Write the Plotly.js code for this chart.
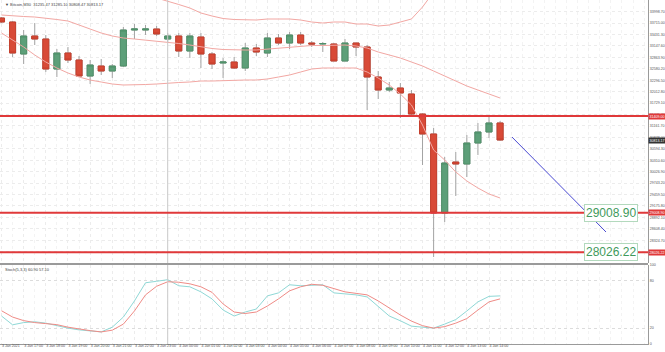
<!DOCTYPE html>
<html><head><meta charset="utf-8">
<script src="https://cdn.plot.ly/plotly-3.0.1.min.js"></script>
<style>html,body{margin:0;padding:0;background:#fff}#c{width:665px;height:352px}</style>
</head><body><div id="c"></div>
<script>
// ---- data ----
const xTickIdx = [0,2,4,6,8,10,12,14,16,18,20,22,24,26,28,30,32,34,36,38,40,42,44];
const xTickText = ["3 Jan 2021","3 Jan 17:00","3 Jan 18:00","3 Jan 19:00","3 Jan 20:00","3 Jan 21:00","3 Jan 22:00","3 Jan 23:00","4 Jan 00:00","4 Jan 01:00","4 Jan 02:00","4 Jan 03:00","4 Jan 04:00","4 Jan 05:00","4 Jan 06:00","4 Jan 07:00","4 Jan 08:00","4 Jan 09:00","4 Jan 10:00","4 Jan 11:00","4 Jan 12:00","4 Jan 13:00","4 Jan 14:00"];
const open  = [33841.3,33742.1,32947.8,33394.6,33320.1,32575.5,32972.6,32798.9,32401.8,32650.0,32525.9,32650.0,33543.5,33543.5,33568.3,33320.1,33394.6,33022.3,33369.8,32947.8,32724.4,32749.3,32600.3,33096.7,32972.6,33345.0,33220.8,33419.4,33220.8,33196.0,33196.0,32774.1,33220.8,33121.6,32377.0,32054.3,32104.0,31955.0,31458.6,30962.4,29001.5,30267.3,30217.6,30738.9,31012.0,31235.4];
const high  = [33866.2,33766.9,33543.5,33717.2,33419.4,33071.9,33121.6,32898.2,32798.9,32823.7,32699.6,33618.0,33692.4,33667.6,33642.8,33469.0,33469.0,33469.0,33469.0,32997.5,32848.6,32873.4,33220.8,33196.0,33469.0,33444.2,33493.9,33493.9,33270.5,33245.7,33220.8,33320.1,33220.8,33171.2,32525.9,32252.9,32228.1,32054.3,31480.0,31111.3,30391.4,30515.5,30937.4,31235.4,31433.8,31284.9];
const low   = [33717.2,32873.4,32699.6,33171.2,32501.1,32377.0,32724.4,32401.8,32203.2,32426.6,32352.2,32625.2,33320.1,33419.4,33394.6,33245.7,32873.4,32848.6,32600.3,32575.5,32352.2,32575.5,32525.9,32898.2,32873.4,33171.2,33071.9,33171.2,33121.6,32997.5,32774.1,32774.1,32898.2,31557.9,31830.9,32004.7,31359.4,31384.2,30192.8,27909.4,28778.1,29423.5,29895.0,30441.0,30863.0,30788.5];
const close = [33742.1,32972.6,33394.6,33320.1,32575.5,32972.6,32798.9,32401.8,32674.8,32525.9,32650.0,33543.5,33568.3,33568.3,33444.2,33394.6,33022.3,33394.6,32947.8,32699.6,32749.3,32600.3,33096.7,32997.5,33345.0,33220.8,33419.4,33220.8,33196.0,33208.4,32774.1,33220.8,33121.6,32377.0,32054.3,32104.0,31979.8,31458.6,30962.4,29001.5,30242.5,30217.6,30738.9,31012.0,31235.4,30813.17];
const bbUpper = [34362.6,34486.7,34635.6,34809.4,34933.3,35007.9,35057.6,34958.2,34834.1,34685.1,34586.0,34511.6,34461.8,34399.8,34337.8,34263.3,34176.3,34089.5,33965.5,33890.9,33828.9,33804.1,33791.7,33791.7,33816.5,33816.4,33816.6,33791.7,33742.1,33717.3,33742.1,33742.1,33692.5,33692.3,33642.8,33667.6,33742.2,33816.6,34114.4,34486.7,34486.7,34536.3,34511.5,34486.6,34436.8,34337.5];
const bbMiddle = [33915.8,33891.0,33878.6,33866.2,33841.3,33804.1,33766.9,33667.6,33568.3,33469.0,33394.6,33345.0,33320.1,33295.3,33270.5,33245.7,33208.4,33171.2,33121.6,33084.3,33059.5,33047.1,33047.1,33047.1,33071.9,33096.7,33121.6,33146.4,33158.8,33158.8,33171.2,33171.2,33146.4,33096.7,32997.5,32923.0,32848.6,32749.3,32650.0,32525.9,32401.8,32277.7,32153.6,32054.3,31955.0,31855.7];
const bbLower = [33469.0,33295.3,33121.6,32923.0,32749.3,32600.3,32476.2,32377.0,32302.5,32252.9,32203.2,32178.4,32178.4,32190.8,32203.2,32228.1,32240.5,32252.9,32277.7,32277.7,32290.1,32290.1,32302.5,32302.5,32327.3,32377.0,32426.6,32501.1,32575.5,32600.3,32600.3,32600.3,32600.3,32501.1,32352.2,32178.4,31955.0,31682.0,31185.6,30565.1,30316.9,30019.1,29795.7,29622.0,29473.2,29373.9];
const stochMain = [35.4,24.3,27.1,28.1,26.4,23.0,20.1,17.9,16.9,15.3,21.3,34.1,54.5,77.5,79.4,81.4,73.7,72.4,66.0,57.1,43.0,35.4,40.5,44.3,60.9,64.7,75.0,73.7,74.3,75.0,64.7,63.5,62.2,59.6,46.9,35.4,29.4,22.6,21.3,20.1,25.2,30.9,41.8,53.3,60.3,60.9];
const stochSignal = [42.1,34.1,29.6,27.1,25.8,24.5,21.3,18.8,16.9,15.3,17.5,25.2,41.8,62.2,73.1,78.8,78.2,76.2,72.4,65.4,50.7,40.5,38.6,40.5,48.1,57.1,67.3,72.4,75.6,74.3,70.5,66.0,64.1,62.2,54.5,45.6,36.7,29.0,23.2,20.1,22.0,26.4,32.2,43.0,53.3,57.1];
const priceTicks = [28041.00,28324.70,28608.40,28892.10,29175.80,29459.50,29743.20,30026.90,30310.60,30594.30,30878.00,31161.70,31445.40,31729.10,32012.80,32296.50,32580.20,32863.90,33147.60,33431.30,33715.00,33998.70];
const levels = [29008.90, 28026.22];
const resistance = 31409.00;
const lastPrice = 30813.17;
const trendX = [46.07, 54.56];
const trendY = [30887.8, 28529.9];
const stochTicks = [0,20,80,100];
const headerText = "\u25BC Bitcoin,M30  31235.47 31285.10 30808.47 30813.17";
const stochText = "Stoch(5,3,3) 60.90 57.10";

// ---- build ----
const idx = open.map((_, i) => i);
const bodyHi = open.map((o, i) => Math.max(o, close[i]));
const bodyLo = open.map((o, i) => Math.min(o, close[i]));
const RED = '#d84a37', GREEN = '#5d9f79';
const FAM = '"Liberation Sans",Arial,sans-serif';

const traces = [
  {type:'scatter', mode:'lines', x:idx, y:bbUpper, line:{color:'#f2a7a3', width:1}, hoverinfo:'skip'},
  {type:'scatter', mode:'lines', x:idx, y:bbMiddle, line:{color:'#f2a7a3', width:1}, hoverinfo:'skip'},
  {type:'scatter', mode:'lines', x:idx, y:bbLower, line:{color:'#f2a7a3', width:1}, hoverinfo:'skip'},
  {type:'candlestick', x:idx, open:open, high:high, low:low, close:close,
   increasing:{line:{color:'#a3a3a3', width:1}, fillcolor:'#a3a3a3'},
   decreasing:{line:{color:'#a3a3a3', width:1}, fillcolor:'#a3a3a3'}, hoverinfo:'skip'},
  {type:'candlestick', x:idx, open:open, high:bodyHi, low:bodyLo, close:close,
   increasing:{line:{color:'#4f9069', width:1}, fillcolor:GREEN},
   decreasing:{line:{color:'#c63f2d', width:1}, fillcolor:RED}, hoverinfo:'skip'},
  {type:'scatter', mode:'lines', x:idx, y:stochMain, xaxis:'x', yaxis:'y2', line:{color:'#8fd8d6', width:1}, hoverinfo:'skip'},
  {type:'scatter', mode:'lines', x:idx, y:stochSignal, xaxis:'x', yaxis:'y2', line:{color:'#ef8b86', width:1}, hoverinfo:'skip'}
];

const W = 665, H = 352, mL = 0, mR = 17, mT = 0, mB = 8;
const plotH = H - mT - mB;
const mainBottomPx = 263, subTopPx = 265;
const mainDom = [(plotH - mainBottomPx) / plotH, 1];
const subDom = [0, (plotH - subTopPx) / plotH];

const shapes = [
  {type:'line', xref:'x', yref:'paper', x0:15, x1:15, y0:0, y1:1, line:{color:'#c9c9c9', width:1}},
  {type:'line', xref:'paper', yref:'y', x0:0, x1:1, y0:resistance, y1:resistance, line:{color:'#e0393a', width:2}},
  {type:'line', xref:'paper', yref:'y', x0:0, x1:1, y0:levels[0], y1:levels[0], line:{color:'#e0393a', width:2}},
  {type:'line', xref:'paper', yref:'y', x0:0, x1:1, y0:levels[1], y1:levels[1], line:{color:'#e0393a', width:2}},
  {type:'line', xref:'x', yref:'y', x0:trendX[0], x1:trendX[1], y0:trendY[0], y1:trendY[1], line:{color:'#4a4ad2', width:1}},
  {type:'line', xref:'paper', yref:'paper', x0:0, x1:1, y0:(plotH-264)/plotH, y1:(plotH-264)/plotH, line:{color:'#9a9a9a', width:2}}
];

function axisLabel(v, bg, txt) {
  return {xref:'paper', yref:'y', x:1, y:v, xanchor:'left', yanchor:'middle', showarrow:false,
    text:txt, bgcolor:bg, font:{family:FAM, size:3.6, color:'#fff'}, borderpad:0.5};
}
const boxX = 638 / (W - mL - mR);
const annotations = [
  {xref:'paper', yref:'paper', x:0.004, y:1, xanchor:'left', yanchor:'top', showarrow:false,
   text:headerText, font:{family:FAM, size:4, color:'#444'}},
  {xref:'paper', yref:'paper', x:0.004, y:subDom[1], xanchor:'left', yanchor:'top', showarrow:false,
   text:stochText, font:{family:FAM, size:4, color:'#444'}},
  {xref:'paper', yref:'y', x:boxX, y:levels[0], xanchor:'right', yanchor:'middle', showarrow:false,
   text:levels[0].toFixed(2), bgcolor:'#ffffff', bordercolor:'#b3d9bd', borderwidth:1, borderpad:1,
   font:{family:FAM, size:12, color:'#3f9a5c'}},
  {xref:'paper', yref:'y', x:boxX, y:levels[1], xanchor:'right', yanchor:'middle', showarrow:false,
   text:levels[1].toFixed(2), bgcolor:'#ffffff', bordercolor:'#b3d9bd', borderwidth:1, borderpad:1,
   font:{family:FAM, size:12, color:'#3f9a5c'}},
  axisLabel(resistance, '#e0393a', resistance.toFixed(2)),
  axisLabel(levels[0], '#e0393a', levels[0].toFixed(2)),
  axisLabel(levels[1], '#e0393a', levels[1].toFixed(2)),
  axisLabel(lastPrice, '#333333', lastPrice.toFixed(2))
];

const layout = {
  width:W, height:H, margin:{l:mL, r:mR, t:mT, b:mB, pad:0},
  paper_bgcolor:'#fff', plot_bgcolor:'#fff', showlegend:false, boxgap:0.22,
  font:{family:FAM, size:4, color:'#444'},
  xaxis:{anchor:'y2', domain:[0,1], range:[-0.135, 58.35], type:'linear',
    tickvals:xTickIdx, ticktext:xTickText, ticklabelposition:'outside right', ticklabelstandoff:-2,
    tickangle:0, tickfont:{family:FAM, size:3.6, color:'#555'}, ticks:'', ticklen:0,
    showgrid:true, gridcolor:'#ececec', griddash:'dot',
    minor:{dtick:1, tick0:0, showgrid:true, gridcolor:'#f3f3f3', griddash:'dot'},
    showline:true, linecolor:'#9a9a9a', linewidth:1, zeroline:false, rangeslider:{visible:false}, fixedrange:true},
  yaxis:{domain:mainDom, range:[27760.4, 34288.1], side:'right', tickvals:priceTicks,
    ticktext:priceTicks.map(v=>v.toFixed(2)), tickfont:{family:FAM, size:3.6, color:'#555'},
    ticks:'', ticklen:0,
    showgrid:true, gridcolor:'#ececec', griddash:'dot', showline:true, linecolor:'#9a9a9a', linewidth:1, zeroline:false},
  yaxis2:{domain:subDom, range:[0,100], side:'right', tickvals:stochTicks, ticktext:stochTicks.map(String),
    tickfont:{family:FAM, size:3.6, color:'#555'}, ticks:'', ticklen:0,
    showgrid:true, gridcolor:'#dcdcdc', griddash:'dot', showline:true, linecolor:'#9a9a9a', linewidth:1, zeroline:false},
  shapes:shapes, annotations:annotations
};
Plotly.newPlot('c', traces, layout, {staticPlot:true, displayModeBar:false});
</script></body></html>
